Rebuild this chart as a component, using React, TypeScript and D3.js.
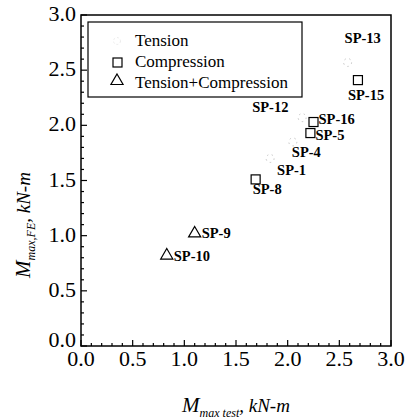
import React from "react";
import * as d3 from "d3";

// specimens: [name, M test, M FE]
const compression = [
  ["SP-15", 2.68, 2.41],
  ["SP-16", 2.25, 2.03],
  ["SP-5", 2.22, 1.93],
  ["SP-8", 1.69, 1.51],
];
const tensionCompression = [
  ["SP-9", 1.1, 1.02],
  ["SP-10", 0.83, 0.82],
];
const tension = [
  ["SP-13", 2.58, 2.57],
  ["SP-12", 2.14, 2.07],
  ["SP-4", 2.05, 1.85],
  ["SP-1", 1.83, 1.7],
];
const xTicks = [0, 0.5, 1, 1.5, 2, 2.5, 3];
const yTicks = [0, 0.5, 1, 1.5, 2, 2.5, 3];
const legendItems = ["Tension", "Compression", "Tension+Compression"];

// label offsets relative to the marker
const labelPos = {
  "SP-15": [-10, 20],
  "SP-16": [5, 2],
  "SP-5": [5, 7],
  "SP-8": [-3, 15],
  "SP-9": [7, 5],
  "SP-10": [7, 5],
  "SP-13": [-3, -19],
  "SP-12": [-50, -6],
  "SP-4": [-1, 15],
  "SP-1": [7, 17],
};

export default function App() {
  const width = 406,
    height = 419;
  const left = 81,
    right = 391,
    top = 15,
    bottom = 346;

  const x = d3.scaleLinear().domain([0, 3]).range([left, right]);
  const y = d3.scaleLinear().domain([0, 3]).range([bottom, top]);

  const font = "'Liberation Serif', 'Times New Roman', serif";
  const minor = d3.range(0, 3.0001, 0.1);

  const tri = d3.symbol().type(d3.symbolTriangle).size(64);

  const labelFor = (d) => {
    const [dx, dy] = labelPos[d[0]];
    return (
      <text
        key={"l" + d[0]}
        x={x(d[1]) + dx}
        y={y(d[2]) + dy}
        fontSize={14.5}
        fontWeight="bold"
        style={{ fontFamily: font }}
      >
        {d[0]}
      </text>
    );
  };

  return (
    <svg
      width={width}
      height={height}
      style={{ position: "absolute", left: 0, top: 0, background: "#fff", fontFamily: font }}
    >
      <rect
        x={left}
        y={top}
        width={right - left}
        height={bottom - top}
        fill="none"
        stroke="#000"
        strokeWidth={1.5}
      />
      {/* minor + major ticks, pointing inward */}
      {minor.map((v, i) => {
        const major = i % 5 === 0;
        const len = major ? 6 : 3;
        return (
          <g key={"t" + i} stroke="#000" strokeWidth={1.2}>
            <line x1={x(v)} x2={x(v)} y1={bottom} y2={bottom - len} />
            <line x1={left} x2={left + len} y1={y(v)} y2={y(v)} />
          </g>
        );
      })}
      {xTicks.map((v) => (
        <text
          key={"xt" + v}
          x={x(v)}
          y={bottom + 20}
          textAnchor="middle"
          fontSize={22}
        >
          {v.toFixed(1)}
        </text>
      ))}
      {yTicks.map((v) => (
        <text
          key={"yt" + v}
          x={left - 5}
          y={v === 0 ? y(v) + 1 : y(v) + 6}
          textAnchor="end"
          fontSize={22}
        >
          {v.toFixed(1)}
        </text>
      ))}

      {/* legend */}
      <rect x={88} y={22} width={214} height={75} fill="#fff" stroke="#000" strokeWidth={1.2} />
      {legendItems.map((t, i) => (
        <text key={t} x={135} y={46 + i * 21} fontSize={17}>
          {t}
        </text>
      ))}
      <circle cx={117} cy={41} r={3.5} fill="none" stroke="#ececec" strokeDasharray="2 2" />
      <rect x={113} y={58} width={9} height={9} fill="none" stroke="#000" strokeWidth={1.2} />
      <path d={tri()} transform="translate(117,81)" fill="none" stroke="#000" strokeWidth={1.2} />

      {/* tension (faint in the source) */}
      {tension.map((d) => (
        <circle
          key={d[0]}
          cx={x(d[1])}
          cy={y(d[2])}
          r={4}
          fill="none"
          stroke="#c4c4c4"
          strokeWidth={1}
          strokeDasharray="1.5 3.5"
        />
      ))}
      {compression.map((d) => (
        <rect
          key={d[0]}
          x={x(d[1]) - 4.5}
          y={y(d[2]) - 4.5}
          width={9}
          height={9}
          fill="none"
          stroke="#000"
          strokeWidth={1.2}
        />
      ))}
      {tensionCompression.map((d) => (
        <path
          key={d[0]}
          d={tri()}
          transform={`translate(${x(d[1])},${y(d[2])})`}
          fill="none"
          stroke="#000"
          strokeWidth={1.2}
        />
      ))}
      {[...tension, ...compression, ...tensionCompression].map(labelFor)}

      {/* axis titles */}
      <text x={236} y={412} textAnchor="middle" fontStyle="italic">
        <tspan fontSize={21}>M</tspan>
        <tspan fontSize={12} dy={5}>max test</tspan>
        <tspan fontSize={19} dy={-5}>, kN-m</tspan>
      </text>
      <text transform="translate(30,225) rotate(-90)" textAnchor="middle" fontStyle="italic">
        <tspan fontSize={21}>M</tspan>
        <tspan fontSize={12} dy={5}>max,FE</tspan>
        <tspan fontSize={19} dy={-5}>, kN-m</tspan>
      </text>
    </svg>
  );
}
